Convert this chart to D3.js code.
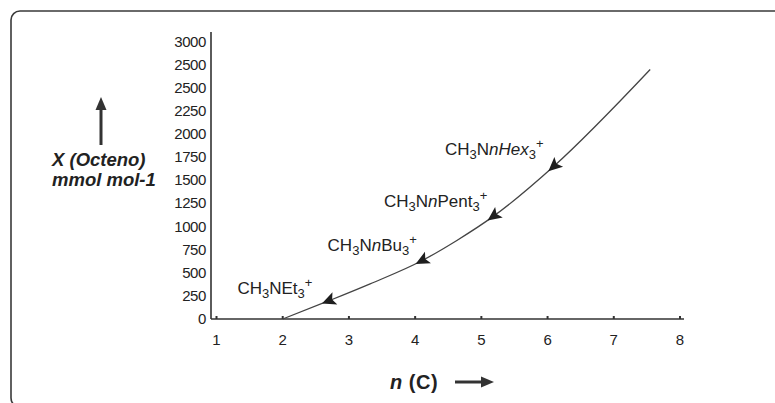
<!DOCTYPE html>
<html>
<head>
<meta charset="utf-8">
<script src="https://cdn.jsdelivr.net/npm/d3@7"></script>
<style>
  body { margin: 0; background: #fff; }
  text { font-family: "Liberation Sans", Arial, sans-serif; fill: #222; }
</style>
</head>
<body>
<div id="chart"></div>
<script>
// data
var xTicks = [1, 2, 3, 4, 5, 6, 7, 8];
var yTicks = [0, 250, 500, 750, 1000, 1250, 1500, 1750, 2000, 2250, 2500, 2750, 3000];
var yTickLabels = ["0", "250", "500", "750", "1000", "1250", "1500", "1750", "2000", "2250", "2500", "2500", "3000"];

// curve (n carbons, X octene)
var nCarbon = [2, 2.69, 3.32, 4.10, 4.63, 5.18, 6.09, 7.55];
var xOctene = [0, 195, 380, 630, 850, 1110, 1650, 2700];

// salts marked on the curve with an arrow
var saltN = [2.69, 4.10, 5.18, 6.09];
var labelParts = [
  [["CH"], ["3", "sub"], ["NEt"], ["3", "sub"], ["+", "sup"]],
  [["CH"], ["3", "sub"], ["N"], ["n", "it"], ["Bu"], ["3", "sub"], ["+", "sup"]],
  [["CH"], ["3", "sub"], ["N"], ["n", "it"], ["Pent"], ["3", "sub"], ["+", "sup"]],
  [["CH"], ["3", "sub"], ["N"], ["n", "it"], ["Hex", "it"], ["3", "sub"], ["+", "sup"]]
];
// label offsets from the arrow (layout only)
var labelDx = [-16, -5, -6, -10];
var labelDy = [-7, -10, -9, -11];

var W = 775, H = 403;

var svg = d3.select("#chart").append("svg")
    .attr("width", W)
    .attr("height", H);

// frame (only top and left edges visible)
svg.append("rect")
    .attr("x", 11).attr("y", 11)
    .attr("width", 820).attr("height", 396)
    .attr("rx", 9)
    .attr("fill", "none")
    .attr("stroke", "#3a3a3a")
    .attr("stroke-width", 1.6);

// scales
var x = d3.scaleLinear().domain([1, 8]).range([216.5, 680]);
var y = d3.scaleLinear().domain([0, 3000]).range([319, 41.7]);

// axis lines
svg.append("line")
    .attr("x1", 211).attr("x2", 684)
    .attr("y1", y(0)).attr("y2", y(0))
    .attr("stroke", "#333").attr("stroke-width", 1.6);
svg.append("line")
    .attr("x1", 211).attr("x2", 211)
    .attr("y1", y(0)).attr("y2", 32)
    .attr("stroke", "#333").attr("stroke-width", 1.6);

// small tick marks on x axis
svg.selectAll(".xt")
    .data(xTicks)
    .enter().append("line")
    .attr("x1", (d) => x(d)).attr("x2", (d) => x(d))
    .attr("y1", y(0)).attr("y2", y(0) - 3)
    .attr("stroke", "#333").attr("stroke-width", 2);

// x tick labels
svg.selectAll(".xl")
    .data(xTicks)
    .enter().append("text")
    .attr("x", (d) => x(d))
    .attr("y", 345)
    .attr("text-anchor", "middle")
    .style("font-size", "15px")
    .text((d) => d);

// y tick labels
svg.selectAll(".yl")
    .data(yTicks)
    .enter().append("text")
    .attr("x", 206)
    .attr("y", (d) => y(d) + 5)
    .attr("text-anchor", "end")
    .style("font-size", "15px")
    .style("letter-spacing", "-0.4px")
    .text((d, i) => yTickLabels[i]);

// curve
var curve = svg.append("path")
    .datum(nCarbon.map((n, i) => [n, xOctene[i]]))
    .attr("d", d3.line().x((d) => x(d[0])).y((d) => y(d[1])).curve(d3.curveMonotoneX))
    .attr("fill", "none")
    .attr("stroke", "#444")
    .attr("stroke-width", 1.3);

// find point and direction on the curve at a given n
var node = curve.node();
var total = node.getTotalLength();
function onCurve(n) {
  var px = x(n), lo = 0, hi = total;
  for (var i = 0; i < 40; i++) {
    var mid = (lo + hi) / 2;
    if (node.getPointAtLength(mid).x < px) lo = mid; else hi = mid;
  }
  var p = node.getPointAtLength(lo);
  var a = node.getPointAtLength(Math.max(0, lo - 3));
  var b = node.getPointAtLength(Math.min(total, lo + 3));
  return {x: p.x, y: p.y, ang: Math.atan2(a.y - b.y, a.x - b.x) * 180 / Math.PI};
}

saltN.forEach((n, j) => {
  var p = onCurve(n);
  // arrowhead pointing down the curve
  svg.append("path")
      .attr("d", "M7,0 L-7,-6.5 L-4,0 L-7,6.5 Z")
      .attr("transform", "translate(" + p.x + "," + p.y + ") rotate(" + p.ang + ")")
      .attr("fill", "#1e1e1e");

  var t = svg.append("text")
      .attr("x", p.x + labelDx[j])
      .attr("y", p.y + labelDy[j])
      .attr("text-anchor", "end")
      .style("font-size", "17px");
  var shift = 0;
  labelParts[j].forEach((part) => {
    var s = t.append("tspan").text(part[0]);
    var want = 0;
    if (part[1] === "sub") { want = 4; s.style("font-size", "13px"); }
    if (part[1] === "sup") { want = -7; s.style("font-size", "13px"); }
    if (part[1] === "it") s.style("font-style", "italic");
    if (want !== shift) { s.attr("dy", want - shift); shift = want; }
  });
});

// y axis title with up arrow
svg.append("line")
    .attr("x1", 101).attr("x2", 101)
    .attr("y1", 145).attr("y2", 108)
    .attr("stroke", "#333").attr("stroke-width", 3);
svg.append("path")
    .attr("d", "M101,97 L95.5,110 L106.5,110 Z")
    .attr("fill", "#333");
svg.append("text")
    .attr("x", 52).attr("y", 166)
    .style("font-size", "18.5px")
    .style("font-weight", "bold")
    .style("font-style", "italic")
    .text("X (Octeno)");
svg.append("text")
    .attr("x", 52).attr("y", 186)
    .style("font-size", "18.5px")
    .style("font-weight", "bold")
    .style("font-style", "italic")
    .text("mmol mol-1");

// x axis title with right arrow
var xt = svg.append("text")
    .attr("x", 390).attr("y", 389)
    .style("font-size", "20px")
    .style("font-weight", "bold")
    .style("letter-spacing", "0.5px");
xt.append("tspan").style("font-style", "italic").text("n");
xt.append("tspan").text(" (C)");
svg.append("line")
    .attr("x1", 455).attr("x2", 482)
    .attr("y1", 382).attr("y2", 382)
    .attr("stroke", "#333").attr("stroke-width", 3);
svg.append("path")
    .attr("d", "M494,382 L481,376.5 L481,387.5 Z")
    .attr("fill", "#333");
</script>
</body>
</html>
